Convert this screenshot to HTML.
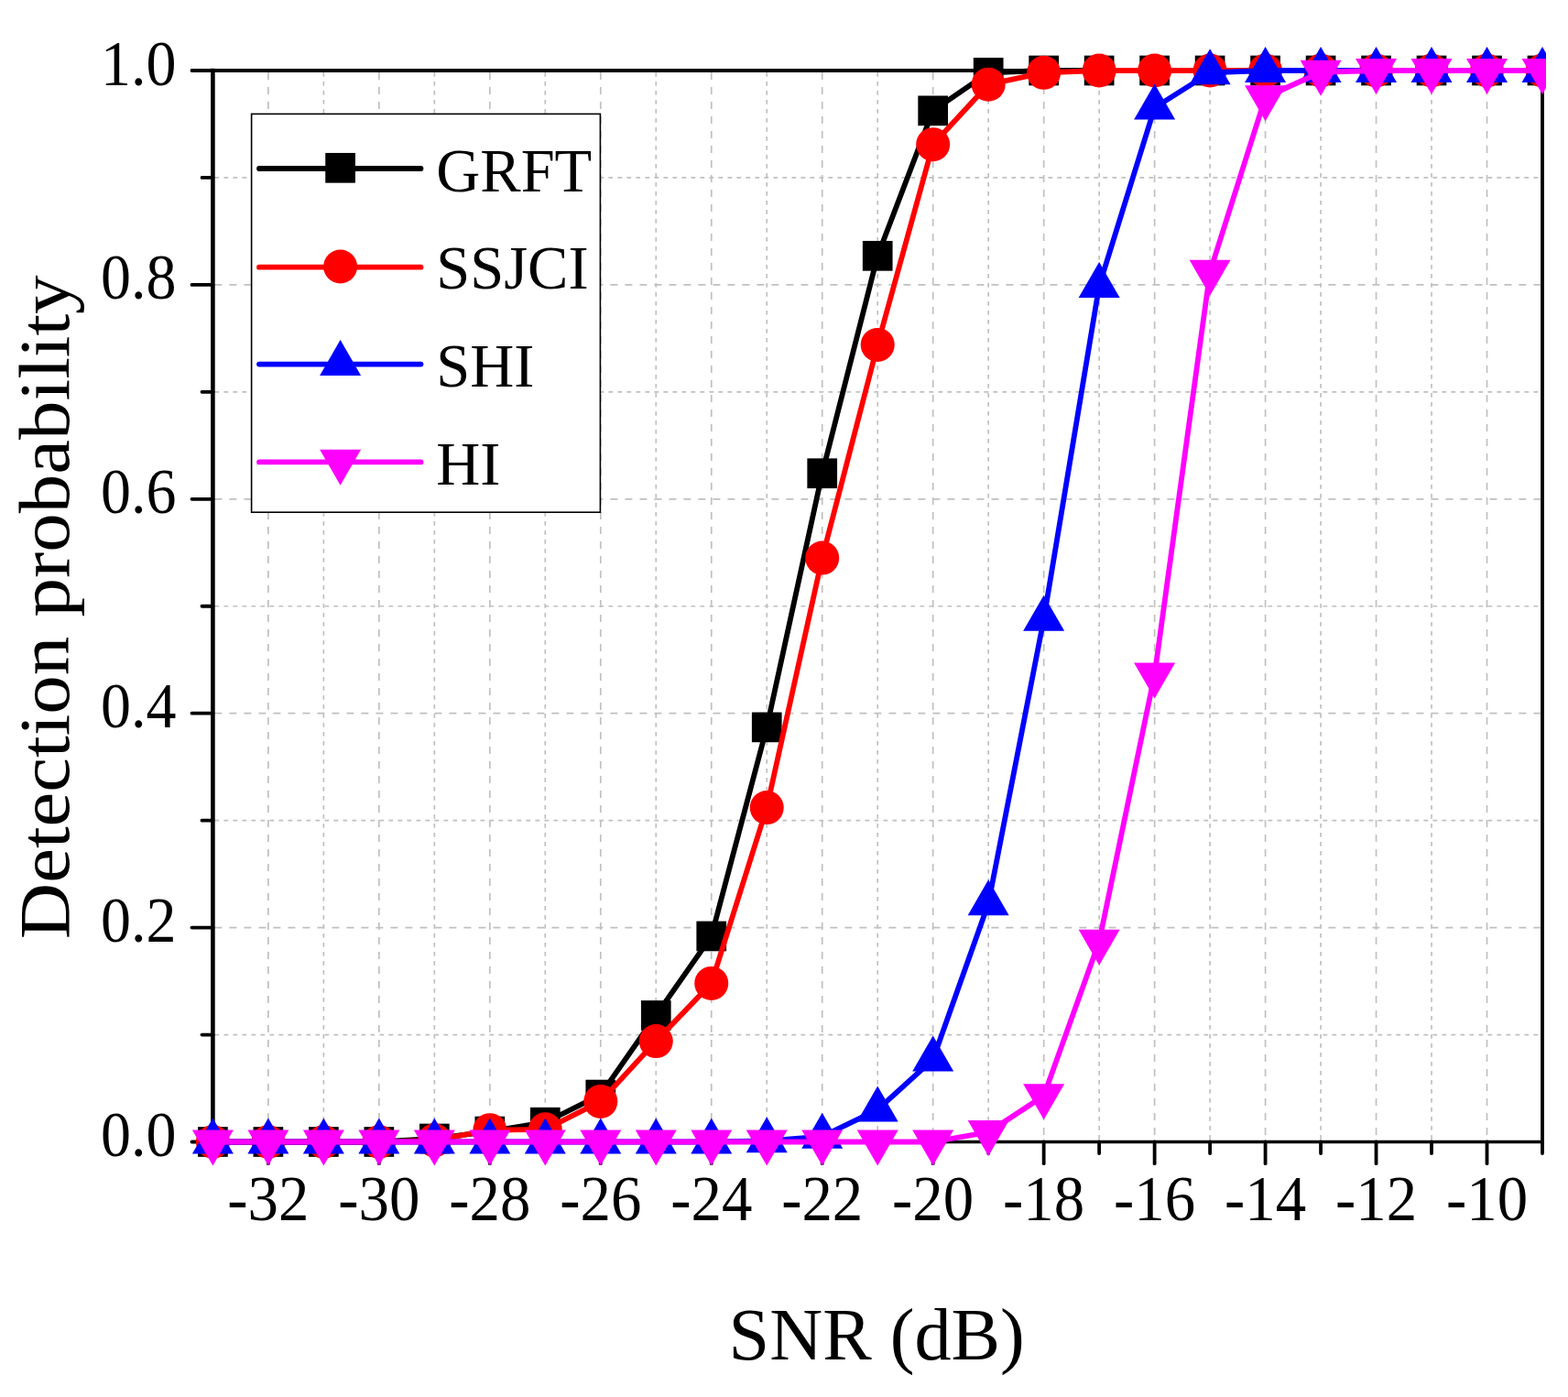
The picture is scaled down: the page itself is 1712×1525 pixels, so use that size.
<!DOCTYPE html>
<html><head><meta charset="utf-8"><style>
html,body{margin:0;padding:0;background:#fff;}
svg{display:block;}
</style></head><body>
<svg width="1712" height="1525" viewBox="0 0 1712 1525">
<defs><clipPath id="clipR"><rect x="0" y="0" width="1688" height="1525"/></clipPath></defs>
<rect width="1712" height="1525" fill="#fff"/>
<g stroke="#c0c0c0" stroke-width="1.7" fill="none"><line x1="292.88" y1="79.00" x2="292.88" y2="1244.50" stroke-dasharray="8,8"/><line x1="353.37" y1="79.00" x2="353.37" y2="1244.50" stroke-dasharray="4.8,5.2"/><line x1="413.85" y1="79.00" x2="413.85" y2="1244.50" stroke-dasharray="8,8"/><line x1="474.33" y1="79.00" x2="474.33" y2="1244.50" stroke-dasharray="4.8,5.2"/><line x1="534.82" y1="79.00" x2="534.82" y2="1244.50" stroke-dasharray="8,8"/><line x1="595.30" y1="79.00" x2="595.30" y2="1244.50" stroke-dasharray="4.8,5.2"/><line x1="655.78" y1="79.00" x2="655.78" y2="1244.50" stroke-dasharray="8,8"/><line x1="716.27" y1="79.00" x2="716.27" y2="1244.50" stroke-dasharray="4.8,5.2"/><line x1="776.75" y1="79.00" x2="776.75" y2="1244.50" stroke-dasharray="8,8"/><line x1="837.23" y1="79.00" x2="837.23" y2="1244.50" stroke-dasharray="4.8,5.2"/><line x1="897.72" y1="79.00" x2="897.72" y2="1244.50" stroke-dasharray="8,8"/><line x1="958.20" y1="79.00" x2="958.20" y2="1244.50" stroke-dasharray="4.8,5.2"/><line x1="1018.68" y1="79.00" x2="1018.68" y2="1244.50" stroke-dasharray="8,8"/><line x1="1079.17" y1="79.00" x2="1079.17" y2="1244.50" stroke-dasharray="4.8,5.2"/><line x1="1139.65" y1="79.00" x2="1139.65" y2="1244.50" stroke-dasharray="8,8"/><line x1="1200.13" y1="79.00" x2="1200.13" y2="1244.50" stroke-dasharray="4.8,5.2"/><line x1="1260.62" y1="79.00" x2="1260.62" y2="1244.50" stroke-dasharray="8,8"/><line x1="1321.10" y1="79.00" x2="1321.10" y2="1244.50" stroke-dasharray="4.8,5.2"/><line x1="1381.58" y1="79.00" x2="1381.58" y2="1244.50" stroke-dasharray="8,8"/><line x1="1442.07" y1="79.00" x2="1442.07" y2="1244.50" stroke-dasharray="4.8,5.2"/><line x1="1502.55" y1="79.00" x2="1502.55" y2="1244.50" stroke-dasharray="8,8"/><line x1="1563.03" y1="79.00" x2="1563.03" y2="1244.50" stroke-dasharray="4.8,5.2"/><line x1="1623.52" y1="79.00" x2="1623.52" y2="1244.50" stroke-dasharray="8,8"/><line x1="234.40" y1="1129.55" x2="1682.00" y2="1129.55" stroke-dasharray="4.8,5.2"/><line x1="234.40" y1="1012.60" x2="1682.00" y2="1012.60" stroke-dasharray="8,8"/><line x1="234.40" y1="895.65" x2="1682.00" y2="895.65" stroke-dasharray="4.8,5.2"/><line x1="234.40" y1="778.70" x2="1682.00" y2="778.70" stroke-dasharray="8,8"/><line x1="234.40" y1="661.75" x2="1682.00" y2="661.75" stroke-dasharray="4.8,5.2"/><line x1="234.40" y1="544.80" x2="1682.00" y2="544.80" stroke-dasharray="8,8"/><line x1="234.40" y1="427.85" x2="1682.00" y2="427.85" stroke-dasharray="4.8,5.2"/><line x1="234.40" y1="310.90" x2="1682.00" y2="310.90" stroke-dasharray="8,8"/><line x1="234.40" y1="193.95" x2="1682.00" y2="193.95" stroke-dasharray="4.8,5.2"/></g>
<g stroke="#000" stroke-width="3.9" fill="none" stroke-linecap="square"><line x1="232.40" y1="77.00" x2="232.40" y2="1246.50" stroke-width="4.6"/><line x1="1684.00" y1="77.00" x2="1684.00" y2="1246.50" stroke-width="3.8"/><line x1="232.40" y1="77.00" x2="1684.00" y2="77.00"/><line x1="232.40" y1="1246.50" x2="1684.00" y2="1246.50" stroke-width="3.7"/></g>
<g stroke="#000" stroke-width="3.8" stroke-linecap="round"><line x1="232.40" y1="1246.50" x2="232.40" y2="1259.00"/><line x1="292.88" y1="1246.50" x2="292.88" y2="1270.20"/><line x1="353.37" y1="1246.50" x2="353.37" y2="1259.00"/><line x1="413.85" y1="1246.50" x2="413.85" y2="1270.20"/><line x1="474.33" y1="1246.50" x2="474.33" y2="1259.00"/><line x1="534.82" y1="1246.50" x2="534.82" y2="1270.20"/><line x1="595.30" y1="1246.50" x2="595.30" y2="1259.00"/><line x1="655.78" y1="1246.50" x2="655.78" y2="1270.20"/><line x1="716.27" y1="1246.50" x2="716.27" y2="1259.00"/><line x1="776.75" y1="1246.50" x2="776.75" y2="1270.20"/><line x1="837.23" y1="1246.50" x2="837.23" y2="1259.00"/><line x1="897.72" y1="1246.50" x2="897.72" y2="1270.20"/><line x1="958.20" y1="1246.50" x2="958.20" y2="1259.00"/><line x1="1018.68" y1="1246.50" x2="1018.68" y2="1270.20"/><line x1="1079.17" y1="1246.50" x2="1079.17" y2="1259.00"/><line x1="1139.65" y1="1246.50" x2="1139.65" y2="1270.20"/><line x1="1200.13" y1="1246.50" x2="1200.13" y2="1259.00"/><line x1="1260.62" y1="1246.50" x2="1260.62" y2="1270.20"/><line x1="1321.10" y1="1246.50" x2="1321.10" y2="1259.00"/><line x1="1381.58" y1="1246.50" x2="1381.58" y2="1270.20"/><line x1="1442.07" y1="1246.50" x2="1442.07" y2="1259.00"/><line x1="1502.55" y1="1246.50" x2="1502.55" y2="1270.20"/><line x1="1563.03" y1="1246.50" x2="1563.03" y2="1259.00"/><line x1="1623.52" y1="1246.50" x2="1623.52" y2="1270.20"/><line x1="1684.00" y1="1246.50" x2="1684.00" y2="1259.00"/><line x1="232.40" y1="1246.50" x2="209.50" y2="1246.50"/><line x1="232.40" y1="1129.55" x2="220.50" y2="1129.55"/><line x1="232.40" y1="1012.60" x2="209.50" y2="1012.60"/><line x1="232.40" y1="895.65" x2="220.50" y2="895.65"/><line x1="232.40" y1="778.70" x2="209.50" y2="778.70"/><line x1="232.40" y1="661.75" x2="220.50" y2="661.75"/><line x1="232.40" y1="544.80" x2="209.50" y2="544.80"/><line x1="232.40" y1="427.85" x2="220.50" y2="427.85"/><line x1="232.40" y1="310.90" x2="209.50" y2="310.90"/><line x1="232.40" y1="193.95" x2="220.50" y2="193.95"/><line x1="232.40" y1="77.00" x2="209.50" y2="77.00"/></g>
<g style="font-family:'Liberation Serif',serif;font-size:70.4px" fill="#000"><text transform="translate(292.88,1332.2) scale(0.95,1)" text-anchor="middle">-32</text><text transform="translate(413.85,1332.2) scale(0.95,1)" text-anchor="middle">-30</text><text transform="translate(534.82,1332.2) scale(0.95,1)" text-anchor="middle">-28</text><text transform="translate(655.78,1332.2) scale(0.95,1)" text-anchor="middle">-26</text><text transform="translate(776.75,1332.2) scale(0.95,1)" text-anchor="middle">-24</text><text transform="translate(897.72,1332.2) scale(0.95,1)" text-anchor="middle">-22</text><text transform="translate(1018.68,1332.2) scale(0.95,1)" text-anchor="middle">-20</text><text transform="translate(1139.65,1332.2) scale(0.95,1)" text-anchor="middle">-18</text><text transform="translate(1260.62,1332.2) scale(0.95,1)" text-anchor="middle">-16</text><text transform="translate(1381.58,1332.2) scale(0.95,1)" text-anchor="middle">-14</text><text transform="translate(1502.55,1332.2) scale(0.95,1)" text-anchor="middle">-12</text><text transform="translate(1623.52,1332.2) scale(0.95,1)" text-anchor="middle">-10</text><text transform="translate(192.5,1262.00) scale(0.937,1)" text-anchor="end">0.0</text><text transform="translate(192.5,1028.10) scale(0.937,1)" text-anchor="end">0.2</text><text transform="translate(192.5,794.20) scale(0.937,1)" text-anchor="end">0.4</text><text transform="translate(192.5,560.30) scale(0.937,1)" text-anchor="end">0.6</text><text transform="translate(192.5,326.40) scale(0.937,1)" text-anchor="end">0.8</text><text transform="translate(192.5,92.50) scale(0.937,1)" text-anchor="end">1.0</text></g>
<text x="957.2" y="1484.1" text-anchor="middle" textLength="323.2" lengthAdjust="spacingAndGlyphs" style="font-family:'Liberation Serif',serif;font-size:81.4px">SNR (dB)</text>
<text transform="translate(74.6,1025.2) rotate(-90)" x="0" y="0" textLength="724.8" lengthAdjust="spacingAndGlyphs" style="font-family:'Liberation Serif',serif;font-size:78px">Detection probability</text>
<g clip-path="url(#clipR)"><polyline points="232.40,1246.50 292.88,1246.50 353.37,1246.50 413.85,1246.50 474.33,1242.99 534.82,1235.04 595.30,1225.22 655.78,1195.04 716.27,1108.50 776.75,1021.96 837.23,793.90 897.72,516.73 958.20,279.32 1018.68,120.86 1079.17,79.34 1139.65,77.00 1200.13,77.00 1260.62,77.00 1321.10,77.00 1381.58,77.00 1442.07,77.00 1502.55,77.00 1563.03,77.00 1623.52,77.00 1684.00,77.00" fill="none" stroke="#000" stroke-width="5.8" stroke-linejoin="round" stroke-linecap="butt"/><rect x="216.05" y="1230.15" width="32.7" height="32.7" fill="#000"/><rect x="276.53" y="1230.15" width="32.7" height="32.7" fill="#000"/><rect x="337.02" y="1230.15" width="32.7" height="32.7" fill="#000"/><rect x="397.50" y="1230.15" width="32.7" height="32.7" fill="#000"/><rect x="457.98" y="1226.64" width="32.7" height="32.7" fill="#000"/><rect x="518.47" y="1218.69" width="32.7" height="32.7" fill="#000"/><rect x="578.95" y="1208.87" width="32.7" height="32.7" fill="#000"/><rect x="639.43" y="1178.69" width="32.7" height="32.7" fill="#000"/><rect x="699.92" y="1092.15" width="32.7" height="32.7" fill="#000"/><rect x="760.40" y="1005.61" width="32.7" height="32.7" fill="#000"/><rect x="820.88" y="777.55" width="32.7" height="32.7" fill="#000"/><rect x="881.37" y="500.38" width="32.7" height="32.7" fill="#000"/><rect x="941.85" y="262.97" width="32.7" height="32.7" fill="#000"/><rect x="1002.33" y="104.51" width="32.7" height="32.7" fill="#000"/><rect x="1062.82" y="62.99" width="32.7" height="32.7" fill="#000"/><rect x="1123.30" y="60.65" width="32.7" height="32.7" fill="#000"/><rect x="1183.78" y="60.65" width="32.7" height="32.7" fill="#000"/><rect x="1244.27" y="60.65" width="32.7" height="32.7" fill="#000"/><rect x="1304.75" y="60.65" width="32.7" height="32.7" fill="#000"/><rect x="1365.23" y="60.65" width="32.7" height="32.7" fill="#000"/><rect x="1425.72" y="60.65" width="32.7" height="32.7" fill="#000"/><rect x="1486.20" y="60.65" width="32.7" height="32.7" fill="#000"/><rect x="1546.68" y="60.65" width="32.7" height="32.7" fill="#000"/><rect x="1607.17" y="60.65" width="32.7" height="32.7" fill="#000"/><rect x="1667.65" y="60.65" width="32.7" height="32.7" fill="#000"/><polyline points="232.40,1246.50 292.88,1246.50 353.37,1246.50 413.85,1246.50 474.33,1244.86 534.82,1233.64 595.30,1232.82 655.78,1202.41 716.27,1136.57 776.75,1073.41 837.23,881.62 897.72,609.12 958.20,376.39 1018.68,157.70 1079.17,92.20 1139.65,79.34 1200.13,77.00 1260.62,77.00 1321.10,77.00 1381.58,77.00 1442.07,77.00 1502.55,77.00 1563.03,77.00 1623.52,77.00 1684.00,77.00" fill="none" stroke="#ff0000" stroke-width="5.8" stroke-linejoin="round" stroke-linecap="butt"/><circle cx="232.40" cy="1246.50" r="18.5" fill="#ff0000"/><circle cx="292.88" cy="1246.50" r="18.5" fill="#ff0000"/><circle cx="353.37" cy="1246.50" r="18.5" fill="#ff0000"/><circle cx="413.85" cy="1246.50" r="18.5" fill="#ff0000"/><circle cx="474.33" cy="1244.86" r="18.5" fill="#ff0000"/><circle cx="534.82" cy="1233.64" r="18.5" fill="#ff0000"/><circle cx="595.30" cy="1232.82" r="18.5" fill="#ff0000"/><circle cx="655.78" cy="1202.41" r="18.5" fill="#ff0000"/><circle cx="716.27" cy="1136.57" r="18.5" fill="#ff0000"/><circle cx="776.75" cy="1073.41" r="18.5" fill="#ff0000"/><circle cx="837.23" cy="881.62" r="18.5" fill="#ff0000"/><circle cx="897.72" cy="609.12" r="18.5" fill="#ff0000"/><circle cx="958.20" cy="376.39" r="18.5" fill="#ff0000"/><circle cx="1018.68" cy="157.70" r="18.5" fill="#ff0000"/><circle cx="1079.17" cy="92.20" r="18.5" fill="#ff0000"/><circle cx="1139.65" cy="79.34" r="18.5" fill="#ff0000"/><circle cx="1200.13" cy="77.00" r="18.5" fill="#ff0000"/><circle cx="1260.62" cy="77.00" r="18.5" fill="#ff0000"/><circle cx="1321.10" cy="77.00" r="18.5" fill="#ff0000"/><circle cx="1381.58" cy="77.00" r="18.5" fill="#ff0000"/><circle cx="1442.07" cy="77.00" r="18.5" fill="#ff0000"/><circle cx="1502.55" cy="77.00" r="18.5" fill="#ff0000"/><circle cx="1563.03" cy="77.00" r="18.5" fill="#ff0000"/><circle cx="1623.52" cy="77.00" r="18.5" fill="#ff0000"/><circle cx="1684.00" cy="77.00" r="18.5" fill="#ff0000"/><polyline points="232.40,1246.50 292.88,1246.50 353.37,1246.50 413.85,1246.50 474.33,1246.50 534.82,1246.50 595.30,1246.50 655.78,1246.50 716.27,1246.50 776.75,1246.50 837.23,1245.33 897.72,1240.65 958.20,1211.41 1018.68,1156.45 1079.17,986.29 1139.65,675.78 1200.13,312.07 1260.62,117.58 1321.10,79.34 1381.58,77.00 1442.07,77.00 1502.55,77.00 1563.03,77.00 1623.52,77.00 1684.00,77.00" fill="none" stroke="#0000ff" stroke-width="5.8" stroke-linejoin="round" stroke-linecap="butt"/><polygon points="232.40,1220.50 254.90,1259.50 209.90,1259.50" fill="#0000ff"/><polygon points="292.88,1220.50 315.38,1259.50 270.38,1259.50" fill="#0000ff"/><polygon points="353.37,1220.50 375.87,1259.50 330.87,1259.50" fill="#0000ff"/><polygon points="413.85,1220.50 436.35,1259.50 391.35,1259.50" fill="#0000ff"/><polygon points="474.33,1220.50 496.83,1259.50 451.83,1259.50" fill="#0000ff"/><polygon points="534.82,1220.50 557.32,1259.50 512.32,1259.50" fill="#0000ff"/><polygon points="595.30,1220.50 617.80,1259.50 572.80,1259.50" fill="#0000ff"/><polygon points="655.78,1220.50 678.28,1259.50 633.28,1259.50" fill="#0000ff"/><polygon points="716.27,1220.50 738.77,1259.50 693.77,1259.50" fill="#0000ff"/><polygon points="776.75,1220.50 799.25,1259.50 754.25,1259.50" fill="#0000ff"/><polygon points="837.23,1219.33 859.73,1258.33 814.73,1258.33" fill="#0000ff"/><polygon points="897.72,1214.65 920.22,1253.65 875.22,1253.65" fill="#0000ff"/><polygon points="958.20,1185.41 980.70,1224.41 935.70,1224.41" fill="#0000ff"/><polygon points="1018.68,1130.45 1041.18,1169.45 996.18,1169.45" fill="#0000ff"/><polygon points="1079.17,960.29 1101.67,999.29 1056.67,999.29" fill="#0000ff"/><polygon points="1139.65,649.78 1162.15,688.78 1117.15,688.78" fill="#0000ff"/><polygon points="1200.13,286.07 1222.63,325.07 1177.63,325.07" fill="#0000ff"/><polygon points="1260.62,91.58 1283.12,130.58 1238.12,130.58" fill="#0000ff"/><polygon points="1321.10,53.34 1343.60,92.34 1298.60,92.34" fill="#0000ff"/><polygon points="1381.58,51.00 1404.08,90.00 1359.08,90.00" fill="#0000ff"/><polygon points="1442.07,51.00 1464.57,90.00 1419.57,90.00" fill="#0000ff"/><polygon points="1502.55,51.00 1525.05,90.00 1480.05,90.00" fill="#0000ff"/><polygon points="1563.03,51.00 1585.53,90.00 1540.53,90.00" fill="#0000ff"/><polygon points="1623.52,51.00 1646.02,90.00 1601.02,90.00" fill="#0000ff"/><polygon points="1684.00,51.00 1706.50,90.00 1661.50,90.00" fill="#0000ff"/><polyline points="232.40,1246.50 292.88,1246.50 353.37,1246.50 413.85,1246.50 474.33,1246.50 534.82,1246.50 595.30,1246.50 655.78,1246.50 716.27,1246.50 776.75,1246.50 837.23,1246.50 897.72,1246.50 958.20,1246.50 1018.68,1246.50 1079.17,1235.97 1139.65,1196.21 1200.13,1027.80 1260.62,736.60 1321.10,296.87 1381.58,106.24 1442.07,78.75 1502.55,77.00 1563.03,77.00 1623.52,77.00 1684.00,77.00" fill="none" stroke="#ff00ff" stroke-width="5.8" stroke-linejoin="round" stroke-linecap="butt"/><polygon points="209.90,1233.50 254.90,1233.50 232.40,1272.50" fill="#ff00ff"/><polygon points="270.38,1233.50 315.38,1233.50 292.88,1272.50" fill="#ff00ff"/><polygon points="330.87,1233.50 375.87,1233.50 353.37,1272.50" fill="#ff00ff"/><polygon points="391.35,1233.50 436.35,1233.50 413.85,1272.50" fill="#ff00ff"/><polygon points="451.83,1233.50 496.83,1233.50 474.33,1272.50" fill="#ff00ff"/><polygon points="512.32,1233.50 557.32,1233.50 534.82,1272.50" fill="#ff00ff"/><polygon points="572.80,1233.50 617.80,1233.50 595.30,1272.50" fill="#ff00ff"/><polygon points="633.28,1233.50 678.28,1233.50 655.78,1272.50" fill="#ff00ff"/><polygon points="693.77,1233.50 738.77,1233.50 716.27,1272.50" fill="#ff00ff"/><polygon points="754.25,1233.50 799.25,1233.50 776.75,1272.50" fill="#ff00ff"/><polygon points="814.73,1233.50 859.73,1233.50 837.23,1272.50" fill="#ff00ff"/><polygon points="875.22,1233.50 920.22,1233.50 897.72,1272.50" fill="#ff00ff"/><polygon points="935.70,1233.50 980.70,1233.50 958.20,1272.50" fill="#ff00ff"/><polygon points="996.18,1233.50 1041.18,1233.50 1018.68,1272.50" fill="#ff00ff"/><polygon points="1056.67,1222.97 1101.67,1222.97 1079.17,1261.97" fill="#ff00ff"/><polygon points="1117.15,1183.21 1162.15,1183.21 1139.65,1222.21" fill="#ff00ff"/><polygon points="1177.63,1014.80 1222.63,1014.80 1200.13,1053.80" fill="#ff00ff"/><polygon points="1238.12,723.60 1283.12,723.60 1260.62,762.60" fill="#ff00ff"/><polygon points="1298.60,283.87 1343.60,283.87 1321.10,322.87" fill="#ff00ff"/><polygon points="1359.08,93.24 1404.08,93.24 1381.58,132.24" fill="#ff00ff"/><polygon points="1419.57,65.75 1464.57,65.75 1442.07,104.75" fill="#ff00ff"/><polygon points="1480.05,64.00 1525.05,64.00 1502.55,103.00" fill="#ff00ff"/><polygon points="1540.53,64.00 1585.53,64.00 1563.03,103.00" fill="#ff00ff"/><polygon points="1601.02,64.00 1646.02,64.00 1623.52,103.00" fill="#ff00ff"/><polygon points="1661.50,64.00 1706.50,64.00 1684.00,103.00" fill="#ff00ff"/></g>
<rect x="274.6" y="124.4" width="380.8" height="434.8" fill="#fff" stroke="#000" stroke-width="1.6"/><line x1="283" y1="184.0" x2="459.5" y2="184.0" stroke="#000" stroke-width="5.8" stroke-linecap="round"/><rect x="355.25" y="166.95" width="32.7" height="32.7" fill="#000"/><text transform="translate(476.3,209.0) scale(0.982,1)" style="font-family:'Liberation Serif',serif;font-size:67.7px">GRFT</text><line x1="283" y1="291.7" x2="459.5" y2="291.7" stroke="#ff0000" stroke-width="5.8" stroke-linecap="round"/><circle cx="371.60" cy="291.00" r="18.5" fill="#ff0000"/><text transform="translate(476.3,315.3) scale(0.982,1)" style="font-family:'Liberation Serif',serif;font-size:67.7px">SSJCI</text><line x1="283" y1="397.6" x2="459.5" y2="397.6" stroke="#0000ff" stroke-width="5.8" stroke-linecap="round"/><polygon points="371.60,370.90 394.10,409.90 349.10,409.90" fill="#0000ff"/><text transform="translate(476.3,422.3) scale(0.982,1)" style="font-family:'Liberation Serif',serif;font-size:67.7px">SHI</text><line x1="283" y1="504.4" x2="459.5" y2="504.4" stroke="#ff00ff" stroke-width="5.8" stroke-linecap="round"/><polygon points="349.10,490.70 394.10,490.70 371.60,529.70" fill="#ff00ff"/><text transform="translate(476.3,529.4) scale(0.982,1)" style="font-family:'Liberation Serif',serif;font-size:67.7px">HI</text>
</svg>
</body></html>
